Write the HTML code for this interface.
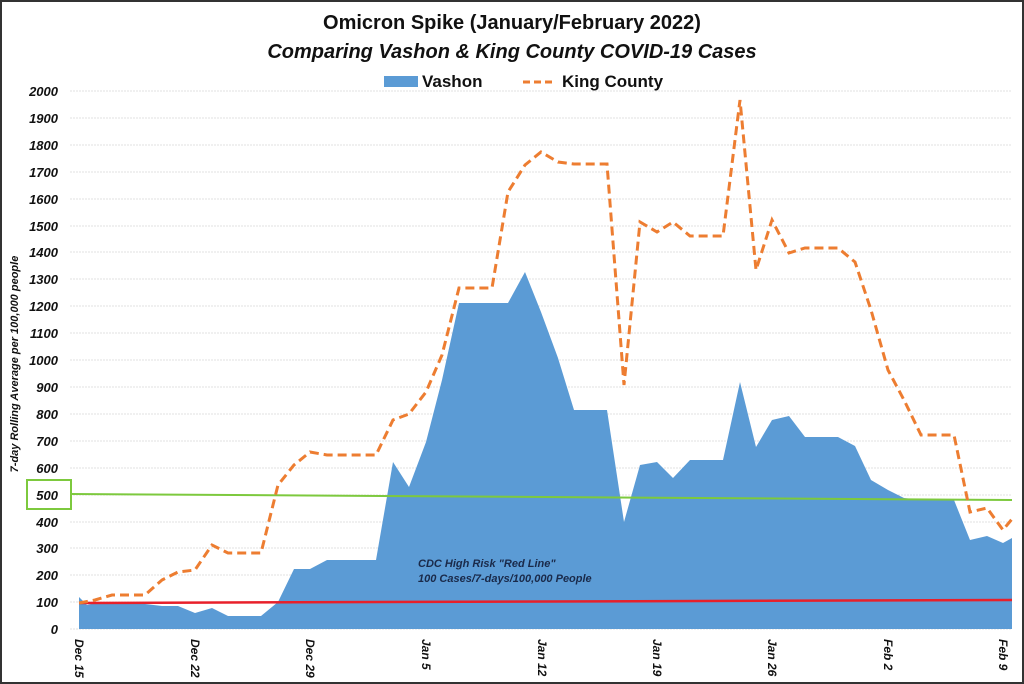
<!DOCTYPE html>
<html><head><meta charset="utf-8"><style>
html,body{margin:0;padding:0;background:#fff}
svg{display:block}
text{font-family:"Liberation Sans",sans-serif}
</style></head><body>
<svg width="1024" height="684" viewBox="0 0 1024 684" xmlns="http://www.w3.org/2000/svg">
<rect x="1" y="1" width="1022" height="682" fill="#fff" stroke="#333" stroke-width="2"/>
<text x="512" y="29" text-anchor="middle" font-size="20" font-weight="bold" fill="#111">Omicron Spike (January/February 2022)</text>
<text x="512" y="58" text-anchor="middle" font-size="20" font-weight="bold" font-style="italic" fill="#111">Comparing Vashon &amp; King County COVID-19 Cases</text>
<rect x="384" y="76" width="34" height="11" fill="#5b9bd5"/>
<text x="422" y="87" font-size="17" font-weight="bold" fill="#111">Vashon</text>
<line x1="523" y1="82" x2="556" y2="82" stroke="#ed7d31" stroke-width="3" stroke-dasharray="7,4"/>
<text x="562" y="87" font-size="17" font-weight="bold" fill="#111">King County</text>
<g stroke="#e2e2e2" stroke-width="1" stroke-dasharray="2,1">
<line x1="70" x2="1012" y1="91" y2="91"/><line x1="70" x2="1012" y1="118" y2="118"/><line x1="70" x2="1012" y1="145" y2="145"/><line x1="70" x2="1012" y1="172" y2="172"/><line x1="70" x2="1012" y1="199" y2="199"/><line x1="70" x2="1012" y1="226" y2="226"/><line x1="70" x2="1012" y1="252" y2="252"/><line x1="70" x2="1012" y1="279" y2="279"/><line x1="70" x2="1012" y1="306" y2="306"/><line x1="70" x2="1012" y1="333" y2="333"/><line x1="70" x2="1012" y1="360" y2="360"/><line x1="70" x2="1012" y1="387" y2="387"/><line x1="70" x2="1012" y1="414" y2="414"/><line x1="70" x2="1012" y1="441" y2="441"/><line x1="70" x2="1012" y1="468" y2="468"/><line x1="70" x2="1012" y1="495" y2="495"/><line x1="70" x2="1012" y1="522" y2="522"/><line x1="70" x2="1012" y1="548" y2="548"/><line x1="70" x2="1012" y1="575" y2="575"/><line x1="70" x2="1012" y1="602" y2="602"/><line x1="70" x2="1012" y1="629" y2="629"/>
</g>
<g font-size="13" font-weight="bold" font-style="italic" fill="#111" text-anchor="end">
<text x="58" y="96">2000</text><text x="58" y="123">1900</text><text x="58" y="150">1800</text><text x="58" y="177">1700</text><text x="58" y="204">1600</text><text x="58" y="231">1500</text><text x="58" y="257">1400</text><text x="58" y="284">1300</text><text x="58" y="311">1200</text><text x="58" y="338">1100</text><text x="58" y="365">1000</text><text x="58" y="392">900</text><text x="58" y="419">800</text><text x="58" y="446">700</text><text x="58" y="473">600</text><text x="58" y="500">500</text><text x="58" y="527">400</text><text x="58" y="553">300</text><text x="58" y="580">200</text><text x="58" y="607">100</text><text x="58" y="634">0</text>
</g>
<text transform="translate(18,364) rotate(-90)" text-anchor="middle" font-size="11" font-weight="bold" font-style="italic" fill="#111">7-day Rolling Average per 100,000 people</text>
<polygon fill="#5b9bd5" points="79,629 79,597 87,605 95,603 112,602 128,602 145,604 162,606 178,606 195,613 212,608 228,616 245,616 261,616 278,602 294,569 310,569 327,560 343,560 360,560 376,560 393,462 409,487 426,442 442,380 459,303 475,303 492,303 508,303 525,272 541,312 558,358 574,410 591,410 607,410 624,522 640,465 657,462 673,478 690,460 706,460 723,460 740,382 756,447 772,420 789,416 805,437 822,437 838,437 855,446 871,480 888,490 904,498 921,500 937,500 954,500 970,540 987,536 1003,543 1012,538 1012,629"/>
<line x1="79" y1="603" x2="1012" y2="600" stroke="#e8202a" stroke-width="2.5"/>
<line x1="71" y1="494" x2="1012" y2="500" stroke="#7dc93e" stroke-width="2"/>
<rect x="27" y="480" width="44" height="29" fill="none" stroke="#7dc93e" stroke-width="2"/>
<polyline fill="none" stroke="#ed7d31" stroke-width="3" stroke-dasharray="9,5" points="79,603 95,600 112,595 128,595 145,595 162,580 178,572 195,570 212,545 228,553 245,553 261,553 278,485 294,465 310,452 327,455 343,455 360,455 376,455 393,420 409,414 426,392 442,355 459,288 475,288 492,288 508,192 525,165 541,152 558,162 574,164 591,164 607,164 624,385 640,222 657,232 673,222 690,236 706,236 723,236 740,100 756,270 772,220 789,253 805,248 822,248 838,248 855,262 871,310 888,370 904,400 921,435 937,435 954,435 970,512 987,508 1003,530 1012,519"/>
<text x="418" y="567" font-size="11" font-weight="bold" font-style="italic" fill="#1a2a4a">CDC High Risk "Red Line"</text>
<text x="418" y="582" font-size="11" font-weight="bold" font-style="italic" fill="#1a2a4a">100 Cases/7-days/100,000 People</text>
<g font-size="12" font-weight="bold" font-style="italic" fill="#111">
<text transform="translate(75,639) rotate(90)">Dec 15</text>
<text transform="translate(191,639) rotate(90)">Dec 22</text>
<text transform="translate(306,639) rotate(90)">Dec 29</text>
<text transform="translate(422,639) rotate(90)">Jan 5</text>
<text transform="translate(538,639) rotate(90)">Jan 12</text>
<text transform="translate(653,639) rotate(90)">Jan 19</text>
<text transform="translate(768,639) rotate(90)">Jan 26</text>
<text transform="translate(884,639) rotate(90)">Feb 2</text>
<text transform="translate(999,639) rotate(90)">Feb 9</text>
</g>
</svg>
</body></html>
